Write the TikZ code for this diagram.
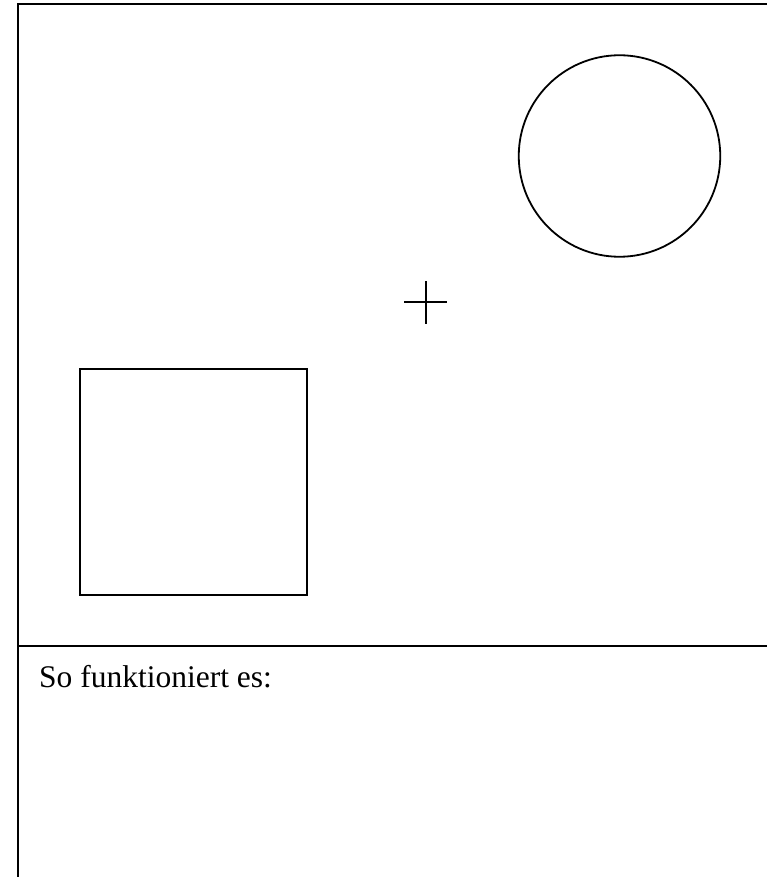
\documentclass[tikz,border=0pt]{standalone}
\usepackage{fontspec}
\setmainfont{Liberation Serif}
\begin{document}
\begin{tikzpicture}[x=1pt,y=-1pt,
  frame/.style={line width=2pt},
  outline/.style={draw,line width=1.8pt,inner sep=0pt,outer sep=0pt},
  labeltext/.style={font=\fontsize{31.5}{36}\selectfont,anchor=base west,inner sep=0pt}]
\useasboundingbox (0,0) rectangle (767,877);
% frame
\coordinate (tl) at (17.5,4);
\coordinate (tr) at (767,4);
\coordinate (bl) at (17.5,877);
\coordinate (ml) at (17.5,646);
\coordinate (mr) at (767,646);
\draw[frame] (tr) -- (tl) -- (bl);
\draw[frame] (ml) -- (mr);
% circle
\node[outline,circle,minimum size=201.5pt] (circ) at (619.5,156) {};
% square
\node[outline,rectangle,minimum width=227pt,minimum height=226pt] (sq) at (193.8,482.2) {};
% cross
\coordinate (cx) at (425.5,302);
\draw[line width=2pt] ([xshift=-21.5pt]cx) -- ([xshift=21.5pt]cx);
\draw[line width=2pt] ([yshift=-21.5pt]cx) -- ([yshift=21.5pt]cx);
% text
\node[labeltext] (txt) at (39,687) {So funktioniert es:};
\end{tikzpicture}
\end{document}
